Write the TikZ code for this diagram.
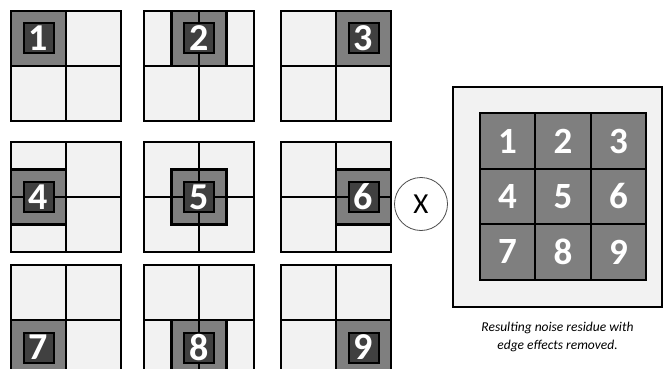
\documentclass[tikz,border=0pt]{standalone}
\usepackage{fontspec}
\setmainfont{Carlito}
\usetikzlibrary{positioning}
\definecolor{tileLight}{HTML}{F2F2F2}
\definecolor{tileMid}{HTML}{7F7F7F}
\definecolor{tileDark}{HTML}{404040}

\begin{document}
\begin{tikzpicture}[x=1pt,y=-1pt,
gridline/.style={line width=2.4pt,draw=black},
numbox/.style={draw=black,fill=tileDark,line width=2pt,minimum size=30pt,inner sep=0pt,text=white,font=\fontsize{38}{38}\selectfont\bfseries},
cell/.style={draw=black,fill=tileMid,line width=2.4pt,minimum size=55.5pt,inner sep=0pt,outer sep=0pt,text=white,font=\fontsize{37}{37}\selectfont\bfseries}]
\useasboundingbox (0,0) rectangle (664,369);
\clip (0,0) rectangle (664,369);
% the nine sliding tiles
\foreach \c/\ox in {0/11,1/144,2/281}
 \foreach \r/\oy in {0/11,1/142,2/265} {
  \pgfmathtruncatemacro\k{3*\r+\c+1}
  \fill[tileLight] (\ox,\oy) rectangle ++(110,110);
  \filldraw[fill=tileMid,gridline] (\ox+\c*27.5,\oy+\r*27.5) rectangle ++(55,55);
  \draw[gridline] (\ox+55,\oy) -- ++(0,110) (\ox,\oy+55) -- ++(110,0);
  \draw[gridline] (\ox,\oy) rectangle ++(110,110);
  \node[numbox] (n\k) at (\ox+\c*27.5+27.5,\oy+\r*27.5+27.5) {\k};
 }
\node[draw=black!70,line width=.8pt,circle,minimum size=53pt,inner sep=0pt,
 font=\fontsize{29}{29}\selectfont] (times) at (421,204) {X};
% result
\node[draw=black,fill=tileLight,line width=2.4pt,minimum width=209pt,minimum height=220pt,inner sep=0pt] (residue) at (557.5,197) {};
\foreach \k in {1,...,9} {
  \pgfmathsetmacro\cx{507.5+55.5*mod(\k-1,3)}
  \pgfmathsetmacro\cy{141+55.5*floor((\k-1)/3)}
  \node[cell] (c\k) at (\cx,\cy) {\k};
}
\node[below=10pt of residue,font=\fontsize{13.5}{18}\selectfont\itshape,align=center] (note)
 {Resulting noise residue with\\edge effects removed.};
\end{tikzpicture}
\end{document}
